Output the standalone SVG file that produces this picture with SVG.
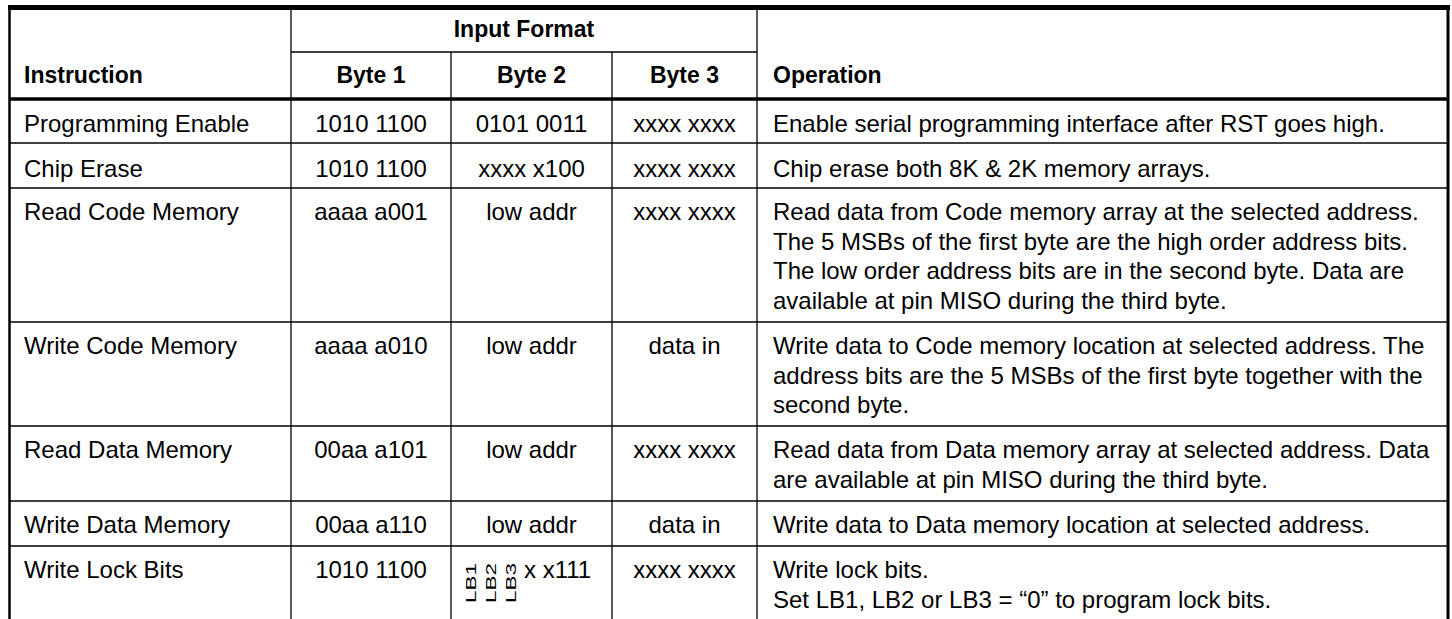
<svg xmlns="http://www.w3.org/2000/svg" width="1452" height="619" viewBox="0 0 1452 619">
<style>
text{font-family:"Liberation Sans",Arial,Helvetica,sans-serif;font-size:24px;fill:#000}
.h{font-weight:bold;font-size:23px}
.c{text-anchor:middle}
.r{font-size:15px}
.thin{stroke:#000;stroke-width:1.3;fill:none}
.thick{stroke:#000;fill:none}
</style>
<rect width="1452" height="619" fill="#fff"/>
<g id="grid">
<line class="thin" x1="291" y1="7" x2="291" y2="619"/>
<line class="thin" x1="451" y1="52" x2="451" y2="619"/>
<line class="thin" x1="612" y1="52" x2="612" y2="619"/>
<line class="thin" x1="757" y1="7" x2="757" y2="619"/>
<line class="thin" x1="291" y1="52" x2="757" y2="52"/>
<line class="thin" x1="9" y1="143" x2="1448" y2="143"/>
<line class="thin" x1="9" y1="188" x2="1448" y2="188"/>
<line class="thin" x1="9" y1="322" x2="1448" y2="322"/>
<line class="thin" x1="9" y1="426" x2="1448" y2="426"/>
<line class="thin" x1="9" y1="501" x2="1448" y2="501"/>
<line class="thin" x1="9" y1="546" x2="1448" y2="546"/>
<line class="thick" stroke-width="3.3" x1="9" y1="99" x2="1449" y2="99"/>
<line class="thick" stroke-width="2.5" x1="9.5" y1="5" x2="9.5" y2="619"/>
<line class="thick" stroke-width="3" x1="1448" y1="5" x2="1448" y2="619"/>
<line class="thick" stroke-width="5" x1="8" y1="7.5" x2="1450" y2="7.5"/>
</g>
<g id="header">
<text class="h c" x="524" y="37">Input Format</text>
<text class="h" x="24" y="83">Instruction</text>
<text class="h c" x="371" y="83">Byte 1</text>
<text class="h c" x="531.5" y="83">Byte 2</text>
<text class="h c" x="684.5" y="83">Byte 3</text>
<text class="h" x="773" y="83">Operation</text>
</g>
<g id="row-programming-enable">
<text x="24" y="132">Programming Enable</text>
<text class="c" x="371" y="132">1010 1100</text>
<text class="c" x="531.5" y="132">0101 0011</text>
<text class="c" x="684.5" y="132">xxxx xxxx</text>
<text x="773" y="132">Enable serial programming interface after RST goes high.</text>
</g>
<g id="row-chip-erase">
<text x="24" y="177">Chip Erase</text>
<text class="c" x="371" y="177">1010 1100</text>
<text class="c" x="531.5" y="177">xxxx x100</text>
<text class="c" x="684.5" y="177">xxxx xxxx</text>
<text x="773" y="177">Chip erase both 8K &amp; 2K memory arrays.</text>
</g>
<g id="row-read-code-memory">
<text x="24" y="220">Read Code Memory</text>
<text class="c" x="371" y="220">aaaa a001</text>
<text class="c" x="531.5" y="220">low addr</text>
<text class="c" x="684.5" y="220">xxxx xxxx</text>
<text x="773" y="220">Read data from Code memory array at the selected address.</text>
<text x="773" y="249.7">The 5 MSBs of the first byte are the high order address bits.</text>
<text x="773" y="279.3">The low order address bits are in the second byte. Data are</text>
<text x="773" y="309">available at pin MISO during the third byte.</text>
</g>
<g id="row-write-code-memory">
<text x="24" y="354">Write Code Memory</text>
<text class="c" x="371" y="354">aaaa a010</text>
<text class="c" x="531.5" y="354">low addr</text>
<text class="c" x="684.5" y="354">data in</text>
<text x="773" y="354">Write data to Code memory location at selected address. The</text>
<text x="773" y="383.7">address bits are the 5 MSBs of the first byte together with the</text>
<text x="773" y="413.3">second byte.</text>
</g>
<g id="row-read-data-memory">
<text x="24" y="458">Read Data Memory</text>
<text class="c" x="371" y="458">00aa a101</text>
<text class="c" x="531.5" y="458">low addr</text>
<text class="c" x="684.5" y="458">xxxx xxxx</text>
<text x="773" y="458">Read data from Data memory array at selected address. Data</text>
<text x="773" y="487.7">are available at pin MISO during the third byte.</text>
</g>
<g id="row-write-data-memory">
<text x="24" y="533">Write Data Memory</text>
<text class="c" x="371" y="533">00aa a110</text>
<text class="c" x="531.5" y="533">low addr</text>
<text class="c" x="684.5" y="533">data in</text>
<text x="773" y="533">Write data to Data memory location at selected address.</text>
</g>
<g id="row-write-lock-bits">
<text x="24" y="578">Write Lock Bits</text>
<text class="c" x="371" y="578">1010 1100</text>
<text class="r" transform="translate(476,603) rotate(-90) scale(1.5,1)">LB1</text>
<text class="r" transform="translate(496,603) rotate(-90) scale(1.5,1)">LB2</text>
<text class="r" transform="translate(516,603) rotate(-90) scale(1.5,1)">LB3</text>
<text x="524" y="578">x x111</text>
<text class="c" x="684.5" y="578">xxxx xxxx</text>
<text x="773" y="578">Write lock bits.</text>
<text x="773" y="607.7">Set LB1, LB2 or LB3 = “0” to program lock bits.</text>
</g>
</svg>
